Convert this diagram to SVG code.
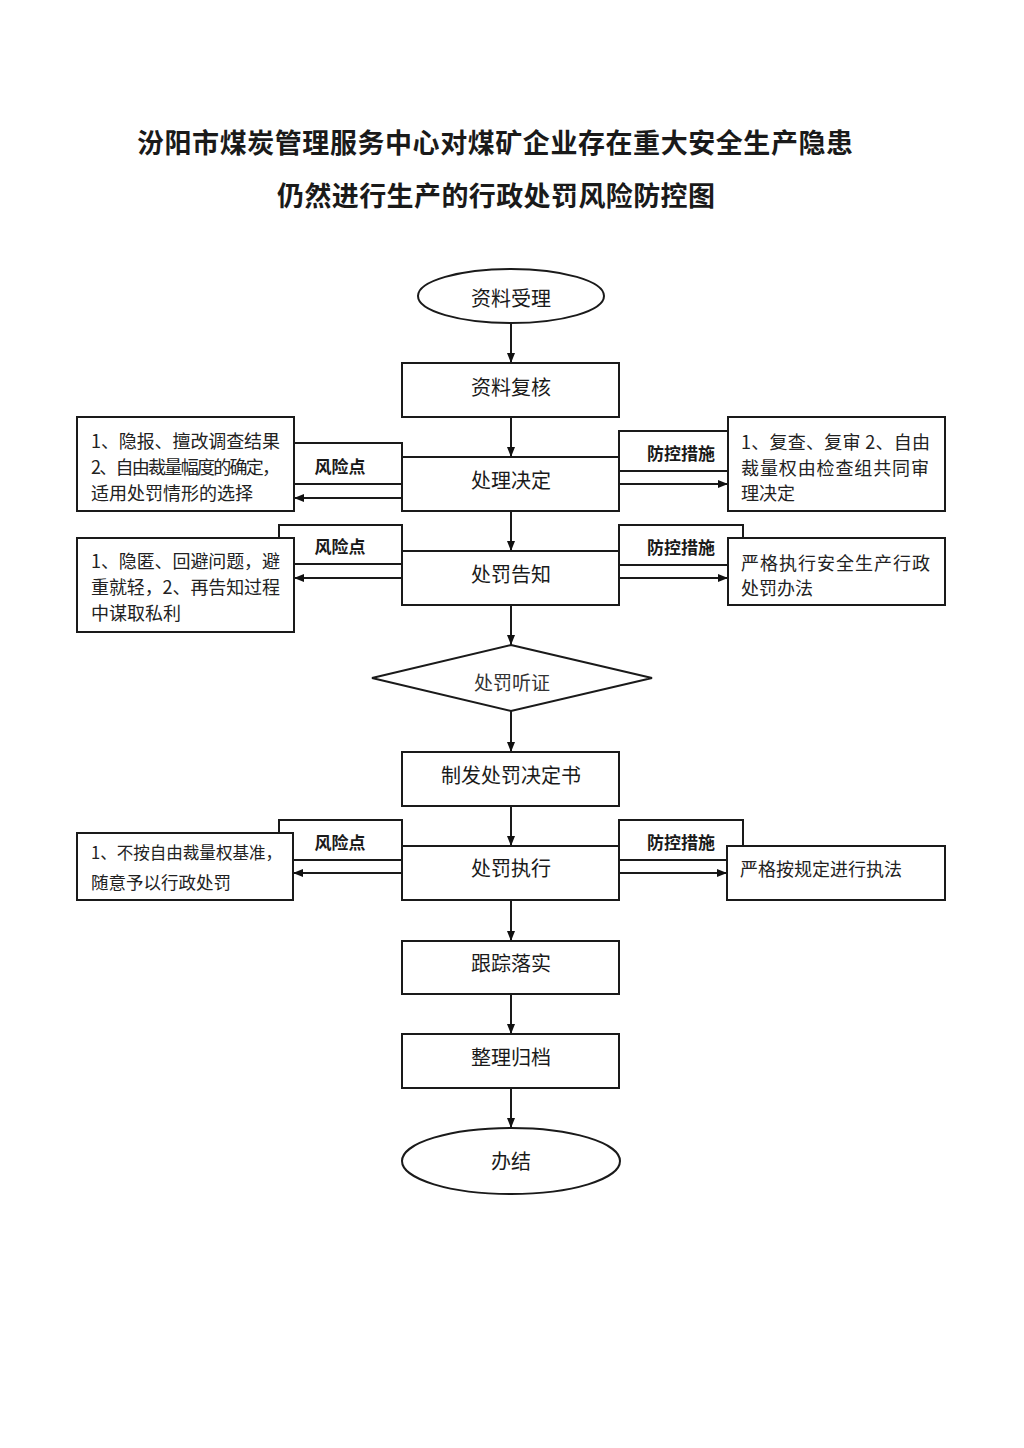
<svg xmlns="http://www.w3.org/2000/svg" width="1024" height="1448" viewBox="0 0 1024 1448">
<defs>
<marker id="ah" viewBox="0 0 10 10" refX="10" refY="5" markerWidth="10" markerHeight="10" markerUnits="userSpaceOnUse" orient="auto">
<path d="M0,1 L10,5 L0,9 Z" fill="#111"/>
</marker>
<style>
.box{fill:#fff;stroke:#1a1a1a;stroke-width:2}
.lbl{fill:#fff;stroke:#1a1a1a;stroke-width:2}
.conn{stroke:#1a1a1a;stroke-width:2;fill:none;marker-end:url(#ah)}
.t{font-family:"Noto Sans CJK SC","Liberation Sans",sans-serif;fill:#1a1a1a}
.node{font-size:20px;text-anchor:middle;dominant-baseline:central}
.lt{font-size:17px;font-weight:bold;text-anchor:middle;dominant-baseline:central}
.bt{font-size:18px;dominant-baseline:central;fill:#222}
.title{font-size:27px;font-weight:bold}
</style>
</defs>
<rect width="1024" height="1448" fill="#fff"/>

<g id="title">
<text class="t title" x="137" y="153" textLength="716" lengthAdjust="spacing">汾阳市煤炭管理服务中心对煤矿企业存在重大安全生产隐患</text>
<text class="t title" x="277" y="206" textLength="438" lengthAdjust="spacing">仍然进行生产的行政处罚风险防控图</text>
</g>

<!-- label boxes (drawn first, partially covered) -->
<g id="labels">
<g id="label-risk-1"><rect class="lbl" x="294" y="443" width="108" height="41"/><text class="t lt" x="340" y="465">风险点</text></g>
<g id="label-ctrl-1"><rect class="lbl" x="619" y="431" width="109" height="40"/><text class="t lt" x="681" y="452">防控措施</text></g>
<g id="label-risk-2"><rect class="lbl" x="279" y="525" width="123" height="39"/><text class="t lt" x="340" y="545">风险点</text></g>
<g id="label-ctrl-2"><rect class="lbl" x="619" y="525" width="124" height="40"/><text class="t lt" x="681" y="546">防控措施</text></g>
<g id="label-risk-3"><rect class="lbl" x="279" y="820" width="123" height="40"/><text class="t lt" x="340" y="841">风险点</text></g>
<g id="label-ctrl-3"><rect class="lbl" x="619" y="820" width="124" height="40"/><text class="t lt" x="681" y="841">防控措施</text></g>
</g>

<g id="connectors">
<line class="conn" x1="511" y1="323" x2="511" y2="363"/>
<line class="conn" x1="511" y1="417" x2="511" y2="457"/>
<line class="conn" x1="511" y1="511" x2="511" y2="551"/>
<line class="conn" x1="511" y1="605" x2="511" y2="645"/>
<line class="conn" x1="511" y1="711" x2="511" y2="752"/>
<line class="conn" x1="511" y1="806" x2="511" y2="846"/>
<line class="conn" x1="511" y1="900" x2="511" y2="941"/>
<line class="conn" x1="511" y1="994" x2="511" y2="1034"/>
<line class="conn" x1="511" y1="1088" x2="511" y2="1128"/>
<line class="conn" x1="402" y1="498" x2="294" y2="498"/>
<line class="conn" x1="619" y1="484" x2="728" y2="484"/>
<line class="conn" x1="402" y1="578" x2="294" y2="578"/>
<line class="conn" x1="619" y1="578" x2="728" y2="578"/>
<line class="conn" x1="402" y1="873" x2="293" y2="873"/>
<line class="conn" x1="619" y1="873" x2="727" y2="873"/>
</g>

<g id="n-start"><ellipse class="box" cx="511" cy="296" rx="93" ry="27"/><text class="t node" x="511" y="297">资料受理</text></g>
<g id="n-review"><rect class="box" x="402" y="363" width="217" height="54"/><text class="t node" x="511" y="386">资料复核</text></g>
<g id="n-decide"><rect class="box" x="402" y="457" width="217" height="54"/><text class="t node" x="511" y="479">处理决定</text></g>
<g id="n-notify"><rect class="box" x="402" y="551" width="217" height="54"/><text class="t node" x="511" y="573">处罚告知</text></g>
<g id="n-hearing"><polygon class="box" points="511,645 652,678 511,711 372,678"/><text class="t node" x="512" y="681" style="font-size:19px;fill:#333">处罚听证</text></g>
<g id="n-issue"><rect class="box" x="402" y="752" width="217" height="54"/><text class="t node" x="511" y="774">制发处罚决定书</text></g>
<g id="n-exec"><rect class="box" x="402" y="846" width="217" height="54"/><text class="t node" x="511" y="867">处罚执行</text></g>
<g id="n-track"><rect class="box" x="402" y="941" width="217" height="53"/><text class="t node" x="511" y="962">跟踪落实</text></g>
<g id="n-archive"><rect class="box" x="402" y="1034" width="217" height="54"/><text class="t node" x="511" y="1056">整理归档</text></g>
<g id="n-end"><ellipse class="box" cx="511" cy="1161" rx="109" ry="33"/><text class="t node" x="511" y="1160">办结</text></g>

<g id="risk-1"><rect class="box" x="77" y="417" width="217" height="94"/>
<text class="t bt" x="91" y="440" textLength="189" lengthAdjust="spacing">1、隐报、擅改调查结果</text>
<text class="t bt" x="91" y="466" textLength="189" lengthAdjust="spacing">2、自由裁量幅度的确定，</text>
<text class="t bt" x="91" y="492">适用处罚情形的选择</text></g>

<g id="ctrl-1"><rect class="box" x="728" y="417" width="217" height="94"/>
<text class="t bt" x="741" y="441" textLength="189" lengthAdjust="spacing">1、复查、复审 2、自由</text>
<text class="t bt" x="741" y="467" textLength="188" lengthAdjust="spacing">裁量权由检查组共同审</text>
<text class="t bt" x="741" y="492">理决定</text></g>

<g id="risk-2"><rect class="box" x="77" y="538" width="217" height="94"/>
<text class="t bt" x="91" y="560" textLength="189" lengthAdjust="spacing">1、隐匿、回避问题，避</text>
<text class="t bt" x="91" y="586" textLength="189" lengthAdjust="spacing">重就轻，2、再告知过程</text>
<text class="t bt" x="91" y="612">中谋取私利</text></g>

<g id="ctrl-2"><rect class="box" x="728" y="538" width="217" height="67"/>
<text class="t bt" x="741" y="562" textLength="189" lengthAdjust="spacing">严格执行安全生产行政</text>
<text class="t bt" x="741" y="587">处罚办法</text></g>

<g id="risk-3"><rect class="box" x="77" y="833" width="216" height="67"/>
<text class="t bt" x="91" y="851" style="font-size:17px" textLength="191" lengthAdjust="spacingAndGlyphs">1、不按自由裁量权基准，</text>
<text class="t bt" x="91" y="881" style="font-size:17.5px">随意予以行政处罚</text></g>

<g id="ctrl-3"><rect class="box" x="727" y="846" width="218" height="54"/>
<text class="t bt" x="740" y="868">严格按规定进行执法</text></g>
</svg>
